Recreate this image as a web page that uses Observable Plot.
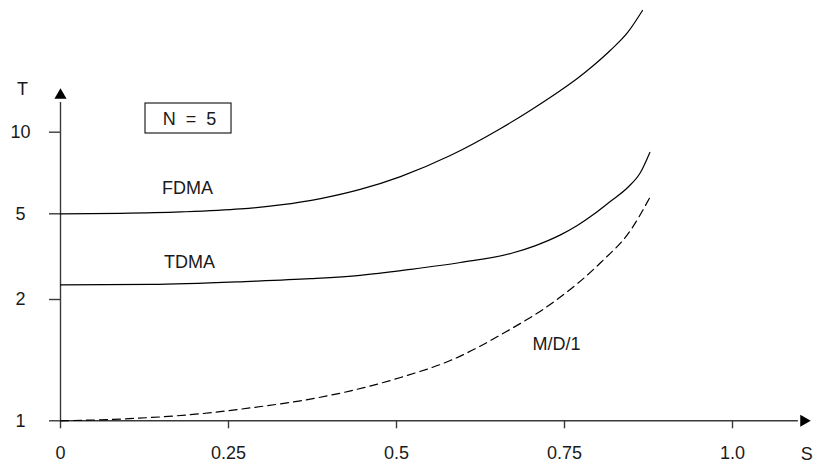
<!DOCTYPE html>
<html><head><meta charset="utf-8">
<script src="https://cdn.jsdelivr.net/npm/d3@7"></script>
<script src="https://cdn.jsdelivr.net/npm/@observablehq/plot@0.6"></script>
<style>html,body{margin:0;padding:0;background:#fff;}</style>
</head><body><div id="chart"></div>
<script>
// ---- data ----
const fdmaS = [0, 0.089, 0.179, 0.268, 0.327, 0.387, 0.446, 0.506, 0.580, 0.655, 0.699, 0.744, 0.769, 0.793, 0.818, 0.844, 0.866];
const fdmaT = [5.00, 5.02, 5.08, 5.21, 5.39, 5.69, 6.15, 6.86, 8.20, 10.32, 12.03, 14.25, 15.78, 17.62, 20.02, 23.33, 28.12];
const tdmaS = [0, 0.134, 0.283, 0.372, 0.446, 0.521, 0.595, 0.670, 0.707, 0.744, 0.769, 0.793, 0.818, 0.844, 0.863, 0.877];
const tdmaT = [2.34, 2.35, 2.43, 2.50, 2.59, 2.76, 2.97, 3.27, 3.56, 3.99, 4.41, 4.96, 5.55, 6.25, 7.10, 8.42];
const md1S = [0, 0.089, 0.208, 0.298, 0.357, 0.432, 0.506, 0.580, 0.661, 0.737, 0.804, 0.848, 0.877];
const md1T = [1.00, 1.010, 1.041, 1.085, 1.121, 1.187, 1.281, 1.411, 1.656, 1.989, 2.97, 4.18, 5.74];

const xTicks = [0, 0.25, 0.5, 0.75, 1.0];
const xTickLabels = ["0", "0.25", "0.5", "0.75", "1.0"];
const yTicks = [1, 2, 5, 10];
const yTickLabels = ["1", "2", "5", "10"];

const curveNames = ["FDMA", "TDMA", "M/D/1"];
const curveLabelS = [0.189, 0.192, 0.738];
const curveLabelT = [6.20, 2.97, 1.547];

const boxText = "N\u00a0\u00a0=\u00a0\u00a05";
const boxS = [0.1265, 0.2545];
const boxT = [9.89, 12.76];
const boxTextAt = [0.192, 11.2];

const xName = "S", yName = "T";
const xAxisEnd = 1.098, xArrowAt = 1.106;   // axis extents (S units)
const yAxisEnd = 12.87, yArrowAt = 13.7;     // axis extents (T units)

// ---- tables built from arrays ----
const toRows = (S, T) => S.map((s, i) => ({s, t: T[i]}));
const fdma = toRows(fdmaS, fdmaT);
const tdma = toRows(tdmaS, tdmaT);
const md1 = toRows(md1S, md1T);
const curveLabels = curveNames.map((name, i) => ({name, s: curveLabelS[i], t: curveLabelT[i]}));

const ink = "#1a1a1a";
const axisInk = "#3a3a3a";

const chart = Plot.plot({
  width: 818,
  height: 464,
  marginLeft: 60,
  marginRight: 86,
  marginTop: 20,
  marginBottom: 43.7,
  style: {fontFamily: "'Liberation Sans', Arial, Helvetica, sans-serif", fontSize: "18px", color: ink, background: "#fff"},
  x: {type: "linear", domain: [0, 1], range: [60, 732]},
  y: {type: "log", domain: yTicks, range: [420.3, 299, 213.3, 131.7]},
  marks: [
    Plot.ruleY([1], {x1: 0, x2: xAxisEnd, stroke: axisInk, strokeWidth: 1.4}),
    Plot.ruleX([0], {y1: 1, y2: yAxisEnd, stroke: axisInk, strokeWidth: 1.4}),
    Plot.dot([{s: xArrowAt, t: 1}], {x: "s", y: "t", symbol: "triangle", r: 4.5, fill: "#000", stroke: null, rotate: 90}),
    Plot.dot([{s: 0, t: yArrowAt}], {x: "s", y: "t", symbol: "triangle", r: 4.5, fill: "#000", stroke: null}),
    Plot.axisX({ticks: xTicks, tickSize: 8, tickPadding: 17, stroke: axisInk, strokeWidth: 1.4,
      tickFormat: d => xTickLabels[xTicks.indexOf(d)], fontSize: 18, fill: ink, label: null}),
    Plot.axisY({ticks: yTicks, tickSize: 11, tickPadding: 29, textAnchor: "middle", stroke: axisInk, strokeWidth: 1.4,
      tickFormat: d => yTickLabels[yTicks.indexOf(d)], fontSize: 18, fill: ink, label: null}),
    Plot.line(fdma, {x: "s", y: "t", curve: "monotone-x", stroke: "#000", strokeWidth: 1.2}),
    Plot.line(tdma, {x: "s", y: "t", curve: "monotone-x", stroke: "#000", strokeWidth: 1.2}),
    Plot.line(md1, {x: "s", y: "t", curve: "monotone-x", stroke: "#000", strokeWidth: 1.2, strokeDasharray: "8,5"}),
    Plot.text(curveLabels, {x: "s", y: "t", text: "name", fontSize: 18, fill: ink}),
    Plot.rect([{}], {x1: boxS[0], x2: boxS[1], y1: boxT[0], y2: boxT[1], fill: "none", stroke: "#222", strokeWidth: 1.2}),
    Plot.text([boxText], {x: boxTextAt[0], y: boxTextAt[1], text: d => d, fontSize: 18, fill: ink}),
    Plot.text([xName], {x: xArrowAt, y: 1, dy: 33, dx: 3, text: d => d, fontSize: 18, fill: ink}),
    Plot.text([yName], {x: 0, y: yArrowAt, dx: -38, dy: -6, text: d => d, fontSize: 18, fill: ink})
  ]
});
document.getElementById("chart").appendChild(chart);
</script>
</body></html>
